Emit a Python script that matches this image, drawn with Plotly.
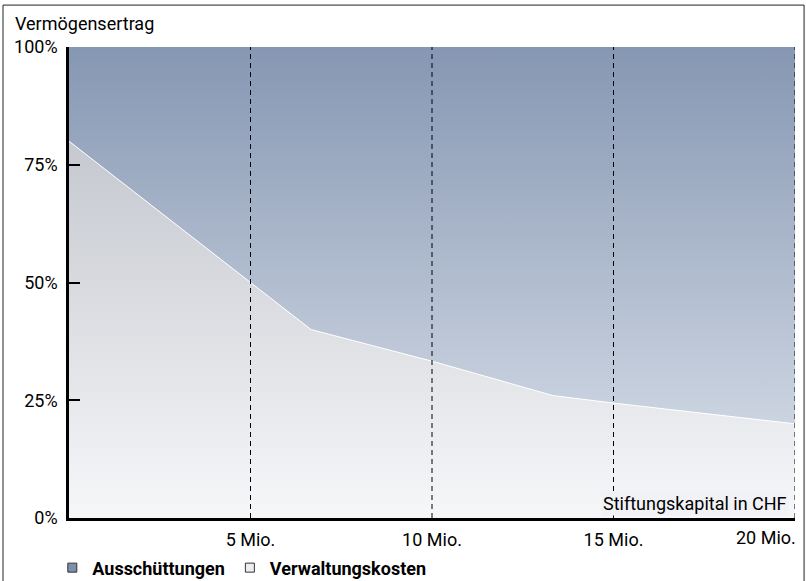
import plotly.graph_objects as go

# Data (Stiftungskapital in Mio. CHF, Verwaltungskosten in % of Vermögensertrag)
capital = [0, 5, 6.67, 10, 13.33, 15, 20]
costs = [80, 50, 40, 33.3, 26, 24.4, 20]
total = [100] * len(capital)

x_ticks = [5, 10, 15, 20]
x_ticktext = ["5 Mio.", "10 Mio.", "15 Mio.", "20 Mio."]
y_ticks = [0, 25, 50, 75, 100]
y_ticktext = ["0%", "25%", "50%", "75%", "100%"]

FONT = "Roboto, Liberation Sans, sans-serif"
FS = 18

fig = go.Figure()

fig.add_trace(go.Scatter(
    x=capital, y=costs, mode="lines", fill="tozeroy",
    line=dict(color="white", width=1),
    fillgradient=dict(type="vertical", start=0, stop=80,
                      colorscale=[[0, "#f6f7f9"], [1, "#c5c8cf"]]),
    showlegend=False, hoverinfo="skip"))

fig.add_trace(go.Scatter(
    x=capital, y=total, mode="lines", fill="tonexty",
    line=dict(color="rgba(0,0,0,0)", width=0),
    fillgradient=dict(type="vertical", start=0, stop=100,
                      colorscale=[[0, "#dde3ec"], [1, "#8697b3"]]),
    showlegend=False, hoverinfo="skip"))

# legend entries
fig.add_trace(go.Scatter(
    x=[None], y=[None], mode="markers", name="Ausschüttungen",
    marker=dict(symbol="square", size=9, color="#7f8fab",
                line=dict(color="#333333", width=1))))
fig.add_trace(go.Scatter(
    x=[None], y=[None], mode="markers", name="Verwaltungskosten",
    marker=dict(symbol="square", size=9, color="#eceef1",
                line=dict(color="#333333", width=1))))

shapes = []
for xv in x_ticks:
    shapes.append(dict(type="line", xref="x", yref="paper", x0=xv, x1=xv,
                       y0=0, y1=1, layer="above",
                       line=dict(color="black", width=1, dash="5px,4px")))
# outer frame
shapes.append(dict(type="rect", xref="paper", yref="paper",
                   x0=-0.0909, x1=1.0125, y0=-0.2, y1=1.089,
                   line=dict(color="#222222", width=1), layer="above"))

annotations = [
    dict(text="Vermögensertrag", xref="paper", yref="paper",
         x=-0.0771, y=1.049, xanchor="left", yanchor="middle",
         showarrow=False, font=dict(size=FS, color="black", family=FONT)),
    dict(text="Stiftungskapital in CHF", xref="x", yref="y",
         x=20, y=3.0, xanchor="right", yanchor="middle", xshift=-6,
         showarrow=False, bgcolor="#f1f2f5", borderpad=1,
         font=dict(size=FS, color="black", family=FONT)),
    dict(text=x_ticktext[-1], xref="x", yref="paper",
         x=x_ticks[-1], y=(518 - 537) / 471, xanchor="right", yanchor="middle",
         xshift=3,
         showarrow=False, font=dict(size=FS, color="black", family=FONT)),
]

fig.update_layout(
    width=806, height=581,
    margin=dict(l=69, r=11, t=47, b=63, autoexpand=False),
    paper_bgcolor="white", plot_bgcolor="white",
    font=dict(family=FONT, size=FS, color="black"),
    showlegend=True,
    legend=dict(orientation="h", x=-0.023, y=-0.106, xanchor="left",
                yanchor="middle", bgcolor="rgba(0,0,0,0)", traceorder="normal",
                font=dict(size=FS, family=FONT, weight="bold"),
                itemwidth=30, tracegroupgap=0),
    shapes=shapes,
    annotations=annotations,
    xaxis=dict(range=[0, 20], tickvals=x_ticks[:-1], ticktext=x_ticktext[:-1],
               showgrid=False, zeroline=False, showline=True,
               linecolor="black", linewidth=2.5, ticks="",
               ticklabelstandoff=4, fixedrange=True),
    yaxis=dict(range=[0, 100], tickvals=y_ticks, ticktext=y_ticktext,
               showgrid=False, zeroline=False, showline=True,
               linecolor="black", linewidth=2.5, ticks="inside",
               ticklen=11, tickwidth=2, tickcolor="black",
               ticklabelstandoff=5, fixedrange=True),
)

fig.write_html("out.html", config={"displayModeBar": False},
               post_script="document.body.style.margin='0px';")
